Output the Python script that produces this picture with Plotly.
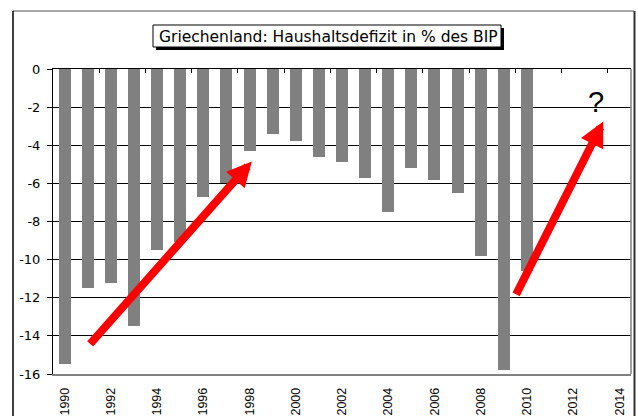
import plotly.graph_objects as go

# ---- data ----
years = list(range(1990, 2011))
deficit = [-15.5, -11.5, -11.2, -13.5, -9.5, -9.1, -6.7, -6.0, -4.3, -3.4,
           -3.8, -4.6, -4.9, -5.7, -7.5, -5.2, -5.8, -6.5, -9.8, -15.8, -10.6]
tick_years = list(range(1990, 2015, 2))
tick_labels = [str(y) for y in tick_years]
y_ticks = list(range(0, -17, -2))
y_tick_labels = [str(v) for v in y_ticks]
title_text = "Griechenland: Haushaltsdefizit in % des BIP"

# trend arrows (data units): tail -> tip
arrow_tail_x = [1991.05, 2009.5]
arrow_tail_y = [-14.5, -11.9]
arrow_tip_x = [1998.1, 2013.3]
arrow_tip_y = [-4.85, -2.75]
question_x = [2013.0]
question_y = [-1.75]

# ---- geometry helpers (pixel -> paper) ----
W, H = 638, 416
L, R, T, B = 53, 7, 69, 42
PW, PH = W - L - R, H - T - B


def px(x):
    return (x - L) / PW


def py(y):
    return (H - B - y) / PH


FONT = "Liberation Sans, Arial, sans-serif"

fig = go.Figure()
fig.add_trace(go.Bar(x=years, y=deficit, width=0.52,
                     marker=dict(color="#808080", line=dict(width=0)),
                     hoverinfo="x+y", showlegend=False))
fig.add_trace(go.Scatter(x=[None], y=[None], xaxis="x2", showlegend=False,
                         hoverinfo="skip"))

annotations = []
for tx, ty, hx, hy in zip(arrow_tail_x, arrow_tail_y, arrow_tip_x, arrow_tip_y):
    annotations.append(dict(x=hx, y=hy, ax=tx, ay=ty, xref="x", yref="y",
                            axref="x", ayref="y", text="", showarrow=True,
                            arrowhead=2, arrowsize=0.62, arrowwidth=8,
                            arrowcolor="#ff0000", standoff=0))
for qx, qy in zip(question_x, question_y):
    annotations.append(dict(x=qx, y=qy, xref="x", yref="y", text="?",
                            showarrow=False, xanchor="center", yanchor="middle",
                            font=dict(family=FONT, size=29, color="black")))
annotations.append(dict(x=px(328), y=py(36.5), xref="paper", yref="paper",
                        text=title_text, showarrow=False, xanchor="center",
                        yanchor="middle",
                        font=dict(family="DejaVu Sans, sans-serif", size=15.5,
                                  color="black")))

shapes = [
    # outer frame
    dict(type="line", xref="paper", yref="paper", x0=px(13), x1=px(634),
         y0=py(11), y1=py(11), line=dict(color="#8c8c8c", width=1.5)),
    dict(type="line", xref="paper", yref="paper", x0=px(13), x1=px(13),
         y0=py(11), y1=py(430), line=dict(color="black", width=1.5)),
    dict(type="line", xref="paper", yref="paper", x0=px(634.5), x1=px(634.5),
         y0=py(11), y1=py(430), line=dict(color="#333333", width=2)),
    # plot-area right border
    dict(type="line", xref="paper", yref="paper", x0=1, x1=1, y0=0, y1=1,
         line=dict(color="#808080", width=1.5)),
    # title box shadow and box
    dict(type="rect", xref="paper", yref="paper", x0=px(156), x1=px(504),
         y0=py(50), y1=py(28), fillcolor="black", line=dict(width=0)),
    dict(type="rect", xref="paper", yref="paper", x0=px(153), x1=px(501),
         y0=py(47), y1=py(25), fillcolor="white",
         line=dict(color="black", width=1)),
]

fig.update_layout(
    width=W, height=H,
    margin=dict(l=L, r=R, t=T, b=B, pad=0),
    paper_bgcolor="white", plot_bgcolor="white",
    showlegend=False,
    bargap=0,
    xaxis=dict(range=[1989.5, 2014.5], tickvals=tick_years, ticktext=tick_labels,
               tickangle=-90, showgrid=False, zeroline=False, showline=True,
               linecolor="#808080", linewidth=1.5, ticks="",
               ticklabelstandoff=7, automargin=False,
               tickfont=dict(family=FONT, size=12.5, color="black")),
    xaxis2=dict(range=[1989.5, 2014.5], overlaying="x", side="top", anchor="y",
                tickvals=[y + 0.5 for y in range(1991, 2014, 2)],
                ticks="inside", ticklen=4, tickcolor="black", tickwidth=1,
                showticklabels=False, showline=True, linecolor="black",
                linewidth=1, showgrid=False, zeroline=False),
    yaxis=dict(range=[-16, 0], tickvals=y_ticks, ticktext=y_tick_labels,
               ticks="outside", ticklen=5, tickcolor="black", tickwidth=1,
               showline=True, linecolor="black", linewidth=1,
               showgrid=True, gridcolor="black", gridwidth=1, zeroline=False,
               ticklabelstandoff=4, automargin=False,
               tickfont=dict(family="DejaVu Sans, sans-serif", size=13,
                             color="black")),
    annotations=annotations,
    shapes=shapes,
)

fig.write_html("out.html",
               config={"displayModeBar": False},
               post_script="document.body.style.margin='0';"
                           "document.body.style.overflow='hidden';")
